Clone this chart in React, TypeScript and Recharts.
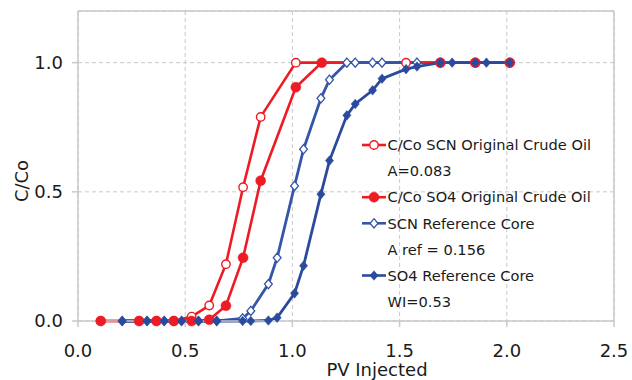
import React from 'react';
import { LineChart, Line, XAxis, YAxis, CartesianGrid, ReferenceLine, Legend } from 'recharts';

// Breakthrough curves: C/Co versus pore volumes injected
const SCN_ORIG_PV = [0.106, 0.285, 0.366, 0.447, 0.53, 0.612, 0.69, 0.77, 0.852, 1.016, 1.53, 1.69, 1.853, 2.014];
const SCN_ORIG_C = [0, 0, 0, 0, 0.017, 0.06, 0.22, 0.518, 0.79, 1.0, 1.0, 1.0, 1.0, 1.0];

const SO4_ORIG_PV = [0.106, 0.285, 0.366, 0.447, 0.53, 0.612, 0.69, 0.77, 0.852, 1.016, 1.137, 1.69, 1.853, 2.014];
const SO4_ORIG_C = [0, 0, 0, 0, 0, 0.005, 0.059, 0.245, 0.543, 0.905, 1.0, 1.0, 1.0, 1.0];

const SCN_REF_PV = [0.206, 0.322, 0.402, 0.483, 0.562, 0.647, 0.768, 0.806, 0.888, 0.929, 1.01, 1.052, 1.133, 1.173, 1.254, 1.293, 1.374, 1.418, 1.581];
const SCN_REF_C = [0, 0, 0, 0, 0, 0, 0.01, 0.039, 0.143, 0.245, 0.523, 0.665, 0.862, 0.934, 1.0, 1.0, 1.0, 1.0, 1.0];

const SO4_REF_PV = [0.206, 0.322, 0.402, 0.483, 0.562, 0.647, 0.768, 0.806, 0.888, 0.929, 1.01, 1.052, 1.133, 1.173, 1.254, 1.293, 1.374, 1.418, 1.53, 1.581, 1.69, 1.745, 1.853, 1.905, 2.014];
const SO4_REF_C = [0, 0, 0, 0, 0, 0, 0, 0, 0.002, 0.013, 0.107, 0.214, 0.491, 0.621, 0.796, 0.84, 0.893, 0.938, 0.975, 0.985, 1.0, 1.0, 1.0, 1.0, 1.0];

const X_TICKS = [0, 0.5, 1, 1.5, 2, 2.5];
const Y_TICKS = [0, 0.5, 1];

const LEGEND_ROWS = [
  { label: 'C/Co SCN Original Crude Oil', marker: 'openCircle' },
  { label: 'A=0.083', marker: null },
  { label: 'C/Co SO4 Original Crude Oil', marker: 'filledCircle' },
  { label: 'SCN Reference Core', marker: 'openDiamond' },
  { label: 'A ref = 0.156', marker: null },
  { label: 'SO4 Reference Core', marker: 'filledDiamond' },
  { label: 'WI=0.53', marker: null },
];

const RED = '#ED1C24';
const BLUE = '#2A4A9E';
const BLUE_OPEN = '#3555A8';
const GRID = '#c9c9c9';
const TEXT = '#1a1a1a';
const FONT = '"DejaVu Sans", Verdana, sans-serif';

const zip = (xs: number[], ys: number[]) => xs.map((x, i) => ({ pv: x, c: ys[i] }));

const scnOrig = zip(SCN_ORIG_PV, SCN_ORIG_C);
const so4Orig = zip(SO4_ORIG_PV, SO4_ORIG_C);
const scnRef = zip(SCN_REF_PV, SCN_REF_C);
const so4Ref = zip(SO4_REF_PV, SO4_REF_C);

type Kind = 'openCircle' | 'filledCircle' | 'openDiamond' | 'filledDiamond';

const MARKER_COLOR: Record<Kind, string> = {
  openCircle: RED,
  filledCircle: RED,
  openDiamond: BLUE_OPEN,
  filledDiamond: BLUE,
};

function marker(kind: Kind, cx: number, cy: number, key?: string) {
  const color = MARKER_COLOR[kind];
  switch (kind) {
    case 'openCircle':
      return <circle key={key} cx={cx} cy={cy} r={4.2} fill="#fff" stroke={color} strokeWidth={1.4} />;
    case 'filledCircle':
      return <circle key={key} cx={cx} cy={cy} r={5} fill={color} stroke={color} strokeWidth={0.5} />;
    case 'openDiamond': {
      const h = 4.6;
      return (
        <polygon
          key={key}
          points={`${cx},${cy - h} ${cx + h * 0.85},${cy} ${cx},${cy + h} ${cx - h * 0.85},${cy}`}
          fill="#fff"
          stroke={color}
          strokeWidth={1.3}
        />
      );
    }
    default: {
      const h = 4.8;
      return (
        <polygon
          key={key}
          points={`${cx},${cy - h} ${cx + h * 0.85},${cy} ${cx},${cy + h} ${cx - h * 0.85},${cy}`}
          fill={color}
          stroke={color}
          strokeWidth={0.5}
        />
      );
    }
  }
}

const dotRenderer = (kind: Kind) => (props: any) => {
  const { cx, cy, index } = props;
  if (cx == null || cy == null) return <g key={`${kind}-${index}`} />;
  return marker(kind, cx, cy, `${kind}-${index}`);
};

const LegendBox = () => (
  <svg width={260} height={185} style={{ display: 'block' }}>
    {LEGEND_ROWS.map((row, i) => {
      const y = 15 + i * 26.1;
      const kind = row.marker as Kind | null;
      return (
        <g key={row.label}>
          {kind && (
            <>
              <line x1={2} x2={26} y1={y} y2={y} stroke={MARKER_COLOR[kind]} strokeWidth={2.6} />
              {marker(kind, 14, y)}
            </>
          )}
          <text x={27.5} y={y} dy="0.36em" fontSize={14.6} fontFamily={FONT} fill={TEXT}>
            {row.label}
          </text>
        </g>
      );
    })}
  </svg>
);

const fmt = (v: number) => v.toFixed(1);

export default function App() {
  return (
    <div style={{ position: 'absolute', left: 0, top: 0 }}>
      <LineChart width={632} height={380} margin={{ top: 11, right: 18, bottom: 0, left: 0 }}>
        <CartesianGrid stroke={GRID} strokeDasharray="4 3" strokeWidth={1} />
        <ReferenceLine y={1.2} stroke={GRID} strokeWidth={1.5} />
        <ReferenceLine x={2.5} stroke={GRID} strokeWidth={1.5} />
        <XAxis
          dataKey="pv"
          type="number"
          domain={[0, 2.5]}
          ticks={X_TICKS}
          tickFormatter={fmt}
          height={59}
          axisLine={{ stroke: GRID, strokeWidth: 1.5 }}
          tickLine={{ stroke: GRID, strokeWidth: 1.5 }}
          tickSize={6}
          tickMargin={17}
          tick={{ fontSize: 18, fontFamily: FONT, fill: TEXT }}
          label={(p: any) => {
            const vb = p.viewBox;
            return (
              <text
                x={vb.x + vb.width / 2 + 31}
                y={vb.y + 55}
                textAnchor="middle"
                fontSize={18}
                fontFamily={FONT}
                fill={TEXT}
              >
                PV Injected
              </text>
            );
          }}
        />
        <YAxis
          dataKey="c"
          type="number"
          domain={[0, 1.2]}
          ticks={Y_TICKS}
          tickFormatter={fmt}
          width={78}
          axisLine={{ stroke: GRID, strokeWidth: 1.5 }}
          tickLine={{ stroke: GRID, strokeWidth: 1.5 }}
          tickSize={6}
          tickMargin={9}
          tick={{ fontSize: 18, fontFamily: FONT, fill: TEXT }}
          label={(p: any) => {
            const vb = p.viewBox;
            const cx = vb.x + 21;
            const cy = vb.y + vb.height / 2 + 15;
            return (
              <text
                x={cx}
                y={cy}
                transform={`rotate(-90 ${cx} ${cy})`}
                textAnchor="middle"
                dominantBaseline="central"
                fontSize={18}
                fontFamily={FONT}
                fill={TEXT}
              >
                C/Co
              </text>
            );
          }}
        />
        <Legend
          layout="vertical"
          align="center"
          verticalAlign="middle"
          content={() => <LegendBox />}
          wrapperStyle={{ position: 'absolute', left: 360, top: 130, width: 260, height: 185 }}
        />
        <Line
          data={scnOrig}
          dataKey="c"
          name="C/Co SCN Original Crude Oil"
          stroke={RED}
          strokeWidth={2.6}
          dot={dotRenderer('openCircle')}
          activeDot={false}
          isAnimationActive={false}
        />
        <Line
          data={so4Orig}
          dataKey="c"
          name="C/Co SO4 Original Crude Oil"
          stroke={RED}
          strokeWidth={2.6}
          dot={dotRenderer('filledCircle')}
          activeDot={false}
          isAnimationActive={false}
        />
        <Line
          data={scnRef}
          dataKey="c"
          name="SCN Reference Core"
          stroke={BLUE_OPEN}
          strokeWidth={2.8}
          dot={dotRenderer('openDiamond')}
          activeDot={false}
          isAnimationActive={false}
        />
        <Line
          data={so4Ref}
          dataKey="c"
          name="SO4 Reference Core"
          stroke={BLUE}
          strokeWidth={2.8}
          dot={dotRenderer('filledDiamond')}
          activeDot={false}
          isAnimationActive={false}
        />
      </LineChart>
    </div>
  );
}
